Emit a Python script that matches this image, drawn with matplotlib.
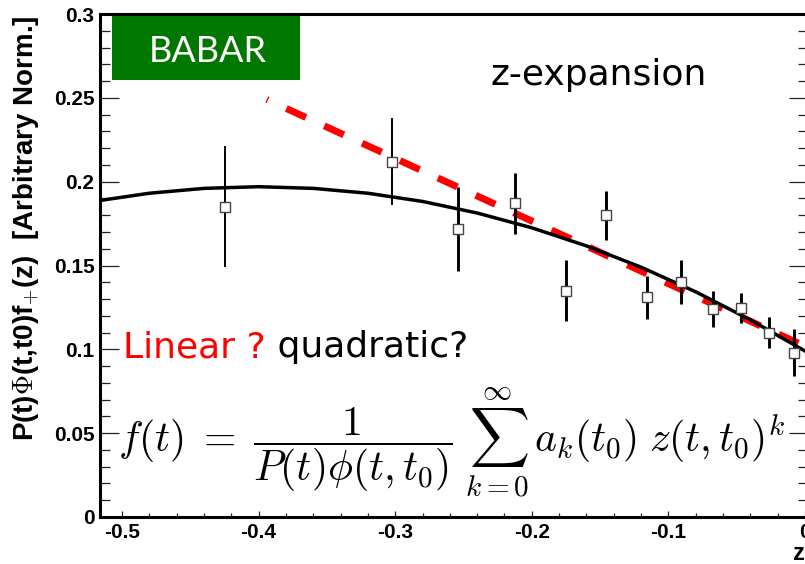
import matplotlib
matplotlib.use("Agg")
import matplotlib.pyplot as plt
from matplotlib.patches import Rectangle
from matplotlib.ticker import FixedLocator, MultipleLocator

plt.rcParams['mathtext.fontset'] = 'cm'
plt.rcParams['lines.scale_dashes'] = False

# measured form factor points (z, value, error)
z_pts = [-0.4245, -0.302, -0.254, -0.212, -0.175, -0.1454, -0.116, -0.0905, -0.067, -0.0465, -0.026, -0.0084]
f_pts = [0.185, 0.212, 0.172, 0.187, 0.135, 0.180, 0.131, 0.140, 0.124, 0.1246, 0.110, 0.098]
f_err = [0.036, 0.026, 0.025, 0.018, 0.018, 0.0145, 0.013, 0.013, 0.0105, 0.009, 0.009, 0.014]
bar_lw = [1.4, 1.4, 2.1, 2.1, 2.1, 2.1, 2.1, 2.1, 2.1, 2.1, 2.1, 2.1]

# quadratic fit curve
quad_z = [-0.516, -0.48, -0.44, -0.40, -0.36, -0.32, -0.28, -0.24, -0.20, -0.16, -0.12, -0.08, -0.04, 0.0]
quad_f = [0.1888, 0.1931, 0.1960, 0.1970, 0.1960, 0.1931, 0.1882, 0.1813, 0.1725, 0.1617, 0.1490, 0.1343, 0.1176, 0.0990]

# linear fit (red dashed)
lin_z = [-0.394, 0.0022]
lin_f = [0.2490, 0.1010]

x_ticks = [-0.5, -0.4, -0.3, -0.2, -0.1, 0.0]
x_ticklabels = ["-0.5", "-0.4", "-0.3", "-0.2", "-0.1", "0"]
y_ticks = [0, 0.05, 0.1, 0.15, 0.2, 0.25, 0.3]
y_ticklabels = ["0", "0.05", "0.1", "0.15", "0.2", "0.25", "0.3"]

W, H = 805, 564
fig = plt.figure(figsize=(W / 100, H / 100), dpi=100)
ax = fig.add_axes([100 / W, 47 / H, 708 / W, 503 / H])
ax.set_xlim(-0.5161, 0.0022)
ax.set_ylim(0, 0.3)

# fits first, then data on top
ax.plot(lin_z, lin_f, color='#ff0000', lw=5.0, linestyle=(14.5, (15.5, 14.5)),
        dash_capstyle='butt', zorder=2)
ax.plot(quad_z, quad_f, color='black', lw=2.5, zorder=3)

lo = [f - e for f, e in zip(f_pts, f_err)]
hi = [f + e for f, e in zip(f_pts, f_err)]
ax.vlines(z_pts, lo, hi, colors='black', linewidths=bar_lw, zorder=4)
ax.plot(z_pts, f_pts, 's', ms=7.5, mfc='white', mec='#444444', mew=1.0, ls='none', zorder=5)

# axes styling
for side in ['left', 'bottom', 'top', 'right']:
    ax.spines[side].set_linewidth(2.2)
ax.xaxis.set_major_locator(FixedLocator(x_ticks))
ax.set_xticklabels(x_ticklabels)
ax.xaxis.set_minor_locator(MultipleLocator(0.02))
ax.yaxis.set_major_locator(FixedLocator(y_ticks))
ax.set_yticklabels(y_ticklabels)
ax.yaxis.set_minor_locator(MultipleLocator(0.01))
ax.tick_params(axis='both', which='both', direction='in', color='#222222', width=0.9)
ax.tick_params(axis='y', which='major', length=14, right=True, pad=4)
ax.tick_params(axis='y', which='minor', length=7, right=True)
ax.tick_params(axis='x', which='major', length=4, pad=4)
ax.tick_params(axis='x', which='minor', length=3)
for lab in ax.get_xticklabels() + ax.get_yticklabels():
    lab.set_fontfamily('Liberation Sans')
    lab.set_fontweight('bold')
    lab.set_fontsize(15)

ax.set_ylabel(r"P(t)$\Phi$(t,t0)f$_{+}$(z)  [Arbitrary Norm.]", loc='top',
              fontfamily='Liberation Sans', fontweight='bold', fontsize=20)
ax.yaxis.set_label_coords(-0.082, 0.998)
fig.text(793 / W, 1 - 553 / H, "z", fontfamily='Liberation Sans', fontweight='bold',
         fontsize=17, ha='left', va='center')

# annotations
ax.add_patch(Rectangle((0.017, 0.869), 0.2655, 0.127, transform=ax.transAxes,
                       facecolor='#007800', edgecolor='none', zorder=6))
ax.text(0.1525, 0.9046, "BABAR", transform=ax.transAxes, color='white',
        fontfamily='Lato', fontsize=26, ha='center', va='baseline', zorder=7)
ax.text(0.551, 0.859, "z-expansion", transform=ax.transAxes, color='black',
        fontfamily='DejaVu Sans', fontsize=26, ha='left', va='baseline')
t1 = ax.text(0.0325, 0.318, "Linear ?", transform=ax.transAxes, color='#ff0000',
             fontfamily='DejaVu Sans', fontsize=26, ha='left', va='baseline')
ax.annotate(" quadratic?", xy=(1, 0), xycoords=t1, color='black',
            fontfamily='DejaVu Sans', fontsize=26, ha='left', va='bottom')

ax.text(0.0254, (517 - 443) / 503,
        r"$f(t)\;=\;\dfrac{1}{P(t)\phi(t,t_0)}\;\sum_{k=0}^{\infty}\,a_k(t_0)\;z(t,t_0)^k$",
        transform=ax.transAxes, fontsize=30, ha='left', va='center', zorder=6)

fig.savefig("out.png", dpi=100)
